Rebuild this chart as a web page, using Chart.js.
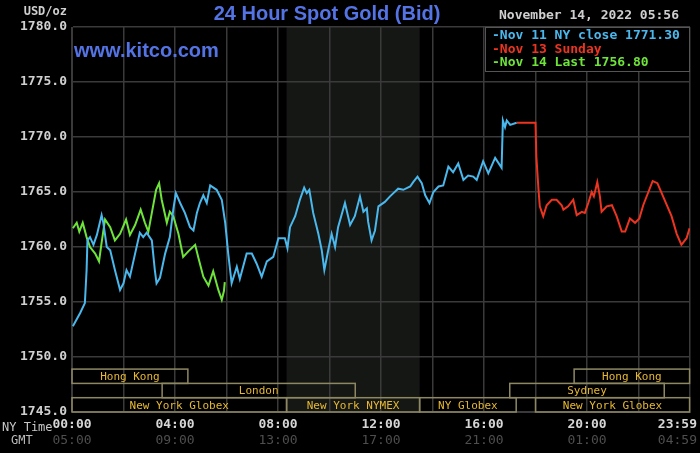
<!DOCTYPE html>
<html>
<head>
<meta charset="utf-8">
<script src="https://cdn.jsdelivr.net/npm/chart.js@4"></script>
<style>
    html, body { margin: 0; padding: 0; background: #000; }
    canvas { display: block; }
</style>
</head>
<body>
<canvas id="gold-chart" width="700" height="453"></canvas>
<script>
// minutes after 00:00 NY time, price in USD/oz
const nov11Minutes = [2, 19, 30, 34, 36, 42, 50, 58, 69, 73, 81, 89, 100, 112, 120, 127, 135, 147, 158, 166,
    174, 186, 193, 197, 205, 217, 228, 236, 242, 252, 263, 275, 283, 291, 298, 306, 314, 322, 337, 349,
    357, 364, 372, 384, 391, 407, 419, 430, 442, 454, 469, 481, 496, 502, 508, 520, 531, 541, 547, 553,
    562, 574, 582, 588, 597, 605, 613, 620, 636, 648, 659, 671, 679, 687, 690, 698, 706, 714, 729, 741,
    749, 760, 772, 788, 795, 805, 815, 823, 833, 842, 854, 865, 877, 888, 900, 912, 923, 935, 943, 958,
    970, 986, 1001, 1004, 1009, 1013, 1021, 1036];
const nov11Prices = [1752.8, 1754.0, 1754.9, 1757.9, 1760.6, 1760.9, 1760.2, 1761.1, 1762.9, 1762.2, 1760.0, 1759.7, 1757.9, 1756.1, 1756.7, 1757.9, 1757.3, 1759.4, 1761.3, 1760.9,
    1761.3, 1760.6, 1757.9, 1756.7, 1757.2, 1759.4, 1760.9, 1763.4, 1764.9, 1764.0, 1763.1, 1761.8, 1761.5, 1763.1, 1764.0, 1764.7, 1764.0, 1765.6, 1765.2, 1764.3,
    1762.2, 1759.4, 1756.7, 1758.2, 1757.1, 1759.4, 1759.4, 1758.5, 1757.3, 1758.7, 1759.1, 1760.8, 1760.8, 1759.9, 1761.8, 1762.8, 1764.3, 1765.4, 1764.9, 1765.2,
    1763.1, 1761.2, 1759.7, 1757.9, 1759.7, 1761.2, 1760.0, 1761.8, 1764.0, 1762.0, 1762.8, 1764.6, 1763.2, 1763.5, 1762.3, 1760.6, 1761.5, 1763.7, 1764.1, 1764.6,
    1764.9, 1765.3, 1765.2, 1765.5, 1765.9, 1766.4, 1765.8, 1764.7, 1764.0, 1765.0, 1765.5, 1765.6, 1767.3, 1766.8, 1767.6, 1766.1, 1766.5, 1766.4, 1766.1, 1767.8,
    1766.7, 1768.1, 1767.2, 1771.5, 1770.9, 1771.5, 1771.1, 1771.3];

const nov13Minutes = [1036, 1080, 1082, 1087, 1090, 1098, 1106, 1118, 1129, 1141, 1145, 1156, 1168, 1176, 1188, 1195, 1203, 1211, 1216, 1224,
    1230, 1234, 1246, 1258, 1269, 1281, 1289, 1300, 1312, 1322, 1331, 1343, 1353, 1364, 1374, 1386, 1397, 1409, 1420, 1432, 1439];
const nov13Prices = [1771.3, 1771.3, 1768.2, 1765.2, 1763.7, 1762.8, 1763.8, 1764.3, 1764.3, 1763.8, 1763.4, 1763.7, 1764.3, 1762.9, 1763.2, 1763.1, 1764.0, 1765.0, 1764.6, 1765.9,
    1764.6, 1763.2, 1763.7, 1763.8, 1762.8, 1761.4, 1761.4, 1762.6, 1762.2, 1762.6, 1763.8, 1765.0, 1766.0, 1765.8, 1764.9, 1763.8, 1762.8, 1761.2, 1760.2, 1760.8, 1761.7];

const nov14Minutes = [2, 11, 17, 25, 34, 42, 54, 63, 69, 77, 89, 100, 112, 126, 135, 147, 160, 170, 178, 186,
    196, 203, 209, 221, 228, 236, 248, 259, 271, 287, 294, 306, 318, 329, 341, 349, 354, 356];
const nov14Prices = [1761.7, 1762.2, 1761.4, 1762.2, 1760.9, 1760.0, 1759.4, 1758.7, 1760.4, 1762.5, 1761.8, 1760.6, 1761.2, 1762.5, 1761.1, 1762.0, 1763.4, 1762.2, 1761.4, 1763.1,
    1765.2, 1765.8, 1764.3, 1762.2, 1763.2, 1762.8, 1761.2, 1759.1, 1759.6, 1760.2, 1759.1, 1757.3, 1756.5, 1757.8, 1756.1, 1755.2, 1756.0, 1756.8];

const legendLabels = ['Nov 11 NY close 1771.30', 'Nov 13 Sunday', 'Nov 14 Last 1756.80'];

const yTickValues = [1745, 1750, 1755, 1760, 1765, 1770, 1775, 1780];
const xTickMinutes = [0, 240, 480, 720, 960, 1200, 1439];
const nyTimeLabels = ['00:00', '04:00', '08:00', '12:00', '16:00', '20:00', '23:59'];
const gmtLabels = ['05:00', '09:00', '13:00', '17:00', '21:00', '01:00', '04:59'];

// market sessions: row 0 is the top strip
const sessionNames = ['Hong Kong', 'Hong Kong', 'London', 'Sydney', 'New York Globex', 'New York NYMEX', 'NY Globex', 'New York Globex'];
const sessionStarts = ['00:00', '19:30', '03:30', '17:00', '00:00', '08:20', '13:30', '18:00'];
const sessionEnds = ['04:30', '23:59', '11:00', '23:00', '08:20', '13:30', '17:15', '23:59'];
const sessionRows = [0, 0, 1, 1, 2, 2, 2, 2];

const nymexStart = '08:20';
const nymexEnd = '13:30';

const BLUE = '#4ab8ec';
const RED = '#ec3420';
const GREEN = '#6ee43a';
const MONO = '"DejaVu Sans Mono", "Liberation Mono", monospace';

function toMinutes(hhmm) {
    const parts = hhmm.split(':');
    return parseInt(parts[0]) * 60 + parseInt(parts[1]);
}

function toPoints(minutes, prices) {
    return minutes.map((m, i) => ({ x: m, y: prices[i] }));
}

const extrasPlugin = {
    id: 'kitcoExtras',
    beforeDraw(chart) {
        const { ctx, chartArea, scales } = chart;
        const x0 = scales.x.getPixelForValue(toMinutes(nymexStart));
        const x1 = scales.x.getPixelForValue(toMinutes(nymexEnd));
        ctx.save();
        ctx.fillStyle = '#151715';
        ctx.fillRect(x0, chartArea.top, x1 - x0, chartArea.bottom - chartArea.top);
        ctx.restore();
    },
    beforeDatasetsDraw(chart) {
        const { ctx, chartArea, scales } = chart;
        const rowH = 14.3;
        const stripTop = chartArea.bottom - rowH * 3;
        ctx.save();
        ctx.font = '11px ' + MONO;
        ctx.textAlign = 'center';
        ctx.textBaseline = 'middle';
        sessionNames.forEach((name, i) => {
            const xa = scales.x.getPixelForValue(toMinutes(sessionStarts[i]));
            const xb = scales.x.getPixelForValue(toMinutes(sessionEnds[i]));
            const top = stripTop + sessionRows[i] * rowH;
            ctx.strokeStyle = '#8e8862';
            ctx.lineWidth = 1.5;
            ctx.strokeRect(xa, top, xb - xa, rowH);
            ctx.fillStyle = '#e6b832';
            ctx.fillText(name, (xa + xb) / 2, top + rowH / 2 + 1);
        });
        ctx.restore();
    },
    afterDraw(chart) {
        const { ctx, chartArea, scales } = chart;
        ctx.save();

        // title and site
        ctx.fillStyle = '#5474e6';
        ctx.textBaseline = 'middle';
        ctx.textAlign = 'center';
        ctx.font = 'bold 20px "Liberation Sans", Arial, sans-serif';
        ctx.fillText('24 Hour Spot Gold (Bid)', 327, 14);
        ctx.textAlign = 'left';
        ctx.font = 'bold 20px "Liberation Sans", Arial, sans-serif';
        ctx.fillText('www.kitco.com', 74, 51);

        // units and timestamp
        ctx.fillStyle = '#cfcfcf';
        ctx.font = 'bold 12px ' + MONO;
        ctx.textAlign = 'right';
        ctx.fillText('USD/oz', 67, 12);
        ctx.textAlign = 'center';
        ctx.font = 'bold 13px ' + MONO;
        ctx.fillText('November 14, 2022 05:56', 589, 16);

        // legend box
        const lx = 485, ly = chartArea.top, lw = chartArea.right - 485, lh = 44;
        ctx.fillStyle = '#000';
        ctx.fillRect(lx, ly, lw, lh);
        ctx.strokeStyle = '#555';
        ctx.lineWidth = 1;
        ctx.strokeRect(lx + 0.5, ly + 0.5, lw - 1, lh);
        const colors = [BLUE, RED, GREEN];
        ctx.textAlign = 'left';
        ctx.font = 'bold 13px ' + MONO;
        legendLabels.forEach((label, i) => {
            ctx.fillStyle = colors[i];
            ctx.fillText('-' + label, 492, ly + 9 + i * 13.5);
        });

        // bottom time axis
        ctx.font = '12px ' + MONO;
        ctx.fillStyle = '#c8c8c8';
        ctx.textAlign = 'left';
        ctx.fillText('NY Time', 2, 428);
        ctx.fillStyle = '#bdbdbd';
        ctx.fillText('GMT', 11, 441);
        xTickMinutes.forEach((m, i) => {
            const px = scales.x.getPixelForValue(m);
            ctx.font = 'bold 13px ' + MONO;
            const w = ctx.measureText(nyTimeLabels[i]).width;
            const cx = Math.min(px, 697 - w / 2);
            ctx.textAlign = 'center';
            ctx.fillStyle = '#d6d6d6';
            ctx.fillText(nyTimeLabels[i], cx, 425);
            ctx.font = '13px ' + MONO;
            ctx.fillStyle = '#4e4e4e';
            ctx.fillText(gmtLabels[i], cx, 441);
        });
        ctx.restore();
    }
};

const ctx = document.getElementById('gold-chart').getContext('2d');

const chart = new Chart(ctx, {
    type: 'line',
    data: {
        datasets: [
            { label: legendLabels[0], data: toPoints(nov11Minutes, nov11Prices), borderColor: BLUE },
            { label: legendLabels[1], data: toPoints(nov13Minutes, nov13Prices), borderColor: RED },
            { label: legendLabels[2], data: toPoints(nov14Minutes, nov14Prices), borderColor: GREEN }
        ]
    },
    options: {
        responsive: false,
        animation: false,
        parsing: false,
        elements: {
            line: { borderWidth: 2, tension: 0 },
            point: { radius: 0 }
        },
        layout: {
            padding: { top: 27, right: 10, left: 0, bottom: 0 }
        },
        plugins: {
            legend: { display: false },
            tooltip: { enabled: false }
        },
        scales: {
            x: {
                type: 'linear',
                min: 0,
                max: 1440,
                afterFit: function(scale) { scale.height = 41; },
                afterBuildTicks: function(scale) {
                    const ticks = [];
                    for (let m = 0; m <= 1440; m += 120) ticks.push({ value: m });
                    scale.ticks = ticks;
                },
                ticks: { display: false },
                grid: { color: '#3a3a3a', lineWidth: 1.5, drawTicks: false },
                border: { color: '#3a3a3a' }
            },
            y: {
                min: 1745,
                max: 1780,
                afterFit: function(scale) { scale.width = 72; },
                afterBuildTicks: function(scale) {
                    scale.ticks = yTickValues.map(v => ({ value: v }));
                },
                ticks: {
                    padding: 5,
                    color: '#d0d0d0',
                    font: { family: MONO, size: 13, weight: 'bold' },
                    callback: function(value) { return value.toFixed(1); }
                },
                grid: { color: '#3a3a3a', lineWidth: 1.5, drawTicks: false },
                border: { color: '#3a3a3a' }
            }
        }
    },
    plugins: [extrasPlugin]
});
</script>
</body>
</html>
